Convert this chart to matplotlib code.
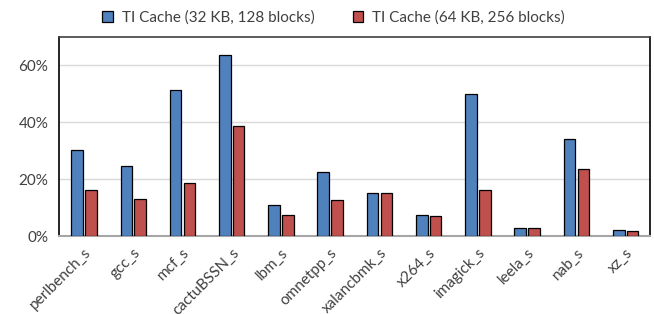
import matplotlib
matplotlib.use("Agg")
import matplotlib.pyplot as plt
import numpy as np
from matplotlib.ticker import FuncFormatter

categories = ["perlbench_s", "gcc_s", "mcf_s", "cactuBSSN_s", "lbm_s", "omnetpp_s",
              "xalancbmk_s", "x264_s", "imagick_s", "leela_s", "nab_s", "xz_s"]
series_names = ["TI Cache (32 KB, 128 blocks)", "TI Cache (64 KB, 256 blocks)"]
vals_32 = [30.1, 24.7, 51.4, 63.5, 10.8, 22.5, 15.0, 7.5, 49.8, 2.8, 34.1, 2.1]
vals_64 = [16.1, 12.9, 18.5, 38.8, 7.5, 12.5, 15.0, 7.0, 16.1, 2.8, 23.7, 1.9]
yticks = [0, 20, 40, 60]

plt.rcParams['font.family'] = ['Lato', 'DejaVu Sans']

fig = plt.figure(figsize=(6.54, 3.14), dpi=100)
ax = fig.add_axes([0.0907, 0.2484, 0.9036, 0.6346])

x = np.arange(len(categories))
w = 0.235
off = 0.14
b1 = ax.bar(x - off, vals_32, w, color="#4F81BD", edgecolor="black", linewidth=0.9,
            label=series_names[0], zorder=3)
b2 = ax.bar(x + off, vals_64, w, color="#C0504D", edgecolor="black", linewidth=0.9,
            label=series_names[1], zorder=3)

ax.set_xlim(-0.5, len(categories) - 0.5)
ax.set_ylim(0, 70)
ax.set_yticks(yticks)
ax.yaxis.set_major_formatter(FuncFormatter(lambda v, p: f"{int(v)}%"))
ax.grid(axis="y", color="#D9D9D9", linewidth=1.0, zorder=0)
ax.set_axisbelow(True)

ax.set_xticks(x)
ax.set_xticklabels(categories, rotation=45, ha="right", rotation_mode="anchor")
ax.tick_params(axis="both", length=0, labelsize=11, colors="#404040")
ax.tick_params(axis="x", pad=7)
ax.tick_params(axis="y", pad=8)

for s in ["left", "right", "top"]:
    ax.spines[s].set_color("black")
    ax.spines[s].set_linewidth(1.2)
ax.spines["top"].set_color("#404040")
ax.spines["bottom"].set_color("#A6A6A6")
ax.spines["bottom"].set_linewidth(1.5)

fig.legend(handles=[b1, b2], labels=series_names, loc="upper center",
           bbox_to_anchor=(0.51, 1.01), ncol=2, frameon=False, fontsize=11,
           handlelength=0.7, handleheight=0.7, handletextpad=0.6, columnspacing=2.5,
           labelcolor="#404040")

fig.savefig("out.png", dpi=100)
